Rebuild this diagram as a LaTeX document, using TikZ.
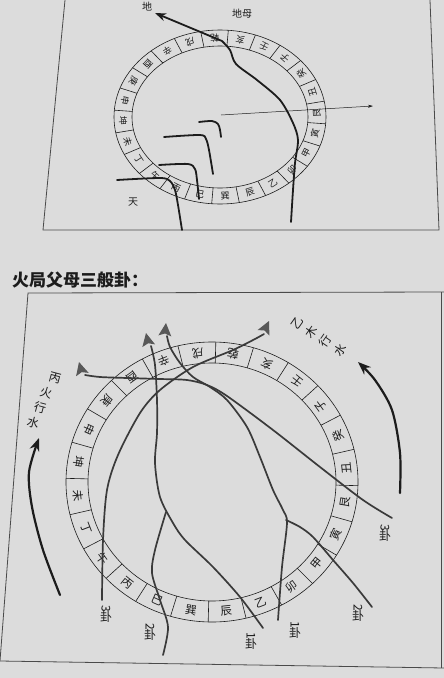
\documentclass[tikz,border=0pt]{standalone}
\usepackage{fontspec}
\newfontfamily\cjk{Noto Sans CJK SC}
\usetikzlibrary{arrows.meta}
\definecolor{cPaper}{HTML}{DCDCDC}
\definecolor{cInk}{HTML}{1C1C1C}
\definecolor{cLine}{HTML}{3A3A3A}
\definecolor{cTip}{HTML}{585858}
\definecolor{cFrame}{HTML}{4A4A4A}

\newcommand{\shanring}[6]{%
  \draw[ring] (0,0) ellipse [x radius=#3, y radius=#4];
  \draw[ring] (0,0) ellipse [x radius=#1, y radius=#2];
  \foreach \k in {0,...,23}{
    \pgfmathsetmacro\angl{#5+7.5-15*\k}
    \draw[ring] ({#1*cos(\angl)},{-#2*sin(\angl)}) -- ({#3*cos(\angl)},{-#4*sin(\angl)});
  }
  \foreach \m [count=\k from 0] in {戌,乾,亥,壬,子,癸,丑,艮,寅,甲,卯,乙,辰,巽,巳,丙,午,丁,未,坤,申,庚,酉,辛}{
    \pgfmathsetmacro\angl{#5-15*\k}
    \node[mount, font=\cjk\fontsize{#6}{#6}\selectfont, rotate=\angl+90] (m\k)
      at ({(#1+#3)/2*cos(\angl)},{-(#2+#4)/2*sin(\angl)}) {\m};
  }
}
\newcommand{\tipmark}[3]{\fill[cTip, shift={(#1,#2)}, rotate=#3] (0,0) -- (-6.5,13) -- (0,10.5) -- (6.5,13) -- cycle;}
\newcommand{\gua}[1]{\rotatebox{-90}{#1}\\[-1pt]卦}

\begin{document}
\begin{tikzpicture}[x=1pt, y=-1pt,
    ring/.style={draw=cInk, line width=0.6pt},
    mount/.style={inner sep=0pt, text=cInk},
    lbl/.style={font=\cjk\fontsize{10}{10}\selectfont, text=cInk, inner sep=0pt},
    frame/.style={draw=cFrame, line width=0.8pt},
    ink/.style={draw=cInk, line width=1.8pt, line cap=round, line join=round},
    flow/.style={draw=cLine, line width=1.7pt, line cap=round, line join=round},
    gua/.style={font=\cjk\fontsize{12}{13}\selectfont, text=cInk, align=center, inner sep=0pt},
    side/.style={font=\cjk\fontsize{12}{12}\selectfont, text=cInk, inner sep=0pt}]
\fill[cPaper] (0,0) rectangle (444,678);
\useasboundingbox (0,0) rectangle (444,678);

% upper chart
\draw[frame] (65,0) -- (43,230) -- (439,230) -- (430,0);
\begin{scope}[shift={(220,117)}]
  \shanring{88}{71}{106}{87}{108}{9}
\end{scope}
\node[lbl] (di) at (147,7) {地};
\node[lbl] (dimu) at (242,14) {地母};
\node[lbl] (tian) at (133,202) {天};
\draw[ink, -{Stealth[length=11pt,width=8pt]}] plot[smooth] coordinates {(291,222) (293,190) (295,163) (298,140) (293,123) (280,100) (257,80) (236,64) (230,50) (222,41)} -- (155,13);
\draw[cInk, line width=0.5pt, -{Stealth[length=5pt,width=3pt]}] (221,115) -- (373,106);
\draw[ink] plot[smooth, tension=0.5] coordinates {(199,122) (212,121) (218,124) (220,130) (221,137)};
\draw[ink] plot[smooth, tension=0.5] coordinates {(164,137) (200,135) (206,139) (209,150) (213,174)};
\draw[ink] plot[smooth, tension=0.5] coordinates {(159,165) (188,164) (195,169) (197,180) (199,199)};
\draw[ink] plot[smooth, tension=0.5] coordinates {(117,180) (160,178) (170,181) (175,190) (178,205) (182,230)};

% lower chart
\node[font=\cjk\bfseries\fontsize{17}{17}\selectfont, text=cInk, anchor=west, inner sep=0pt] (title) at (12,280) {火局父母三般卦：};
\draw[frame] (444,292) -- (28,293) -- (0,661);
\draw[frame] (0,661) -- (444,668);
\draw[frame] (441,292) -- (441,668);
\begin{scope}[shift={(212,482)}]
  \shanring{124}{119}{146}{140}{96}{11.5}
\end{scope}

\coordinate (jL) at (166,512);
\coordinate (jR) at (286,520);
\draw[flow] plot[smooth] coordinates {(102,600) (103,540) (107,490) (118,455) (140,413) (160,390) (193,367) (233,350) (255,339) (264,334)};
\draw[flow] plot[smooth] coordinates {(392,518) (363,500) (320,467) (273,430) (227,396) (207,385) (187,380) (160,379) (127,378) (100,377) (85,375)};
\draw[flow] plot[smooth] coordinates {(263,628) (240,597) (213,567) (185,540) (173,523) (160,497) (155,463) (157,433) (157,400) (155,365) (151,346)};
\draw[flow] plot[smooth] coordinates {(278,620) (282,567) (287,523) (283,510) (273,490) (260,457) (247,427) (227,400) (210,387) (193,377) (180,363) (170,347) (167,336)};
\draw[flow] plot[smooth] coordinates {(jL) (155,550) (152,573) (160,600) (168,627) (163,655)};
\draw[flow] plot[smooth] coordinates {(jR) (300,527) (313,537) (333,560) (353,583) (372,607)};
\tipmark{79}{362}{15}
\tipmark{146}{333}{12}
\tipmark{166}{323}{-5}
\tipmark{269}{321}{-25}

\node[gua] (g3l) at (106,614) {\gua{3}};
\node[gua] (g2l) at (150,632) {\gua{2}};
\node[gua] (g1m) at (251,641) {\gua{1}};
\node[gua] (g1r) at (295,630) {\gua{1}};
\node[gua] (g2r) at (358,613) {\gua{2}};
\node[gua] (g3r) at (385,533) {\gua{3}};

\draw[ink, line width=2.2pt, -{Stealth[length=13pt,width=10pt]}] plot[smooth] coordinates {(60,595) (43,550) (32,507) (29,472) (39,438)};
\draw[ink, line width=2.2pt, -{Stealth[length=13pt,width=10pt]}] plot[smooth] coordinates {(400,493) (400,453) (392,410) (375,380) (358,362)};
\foreach \c/\x/\y [count=\i] in {丙/55/378, 火/46/393, 行/40/408, 水/33/423}
  \node[side, rotate=-15] (bh\i) at (\x,\y) {\c};
\foreach \c/\x/\y [count=\i] in {乙/297/323, 木/311/332, 行/325/341, 水/340/350}
  \node[side, rotate=55] (ym\i) at (\x,\y) {\c};
\end{tikzpicture}
\end{document}
